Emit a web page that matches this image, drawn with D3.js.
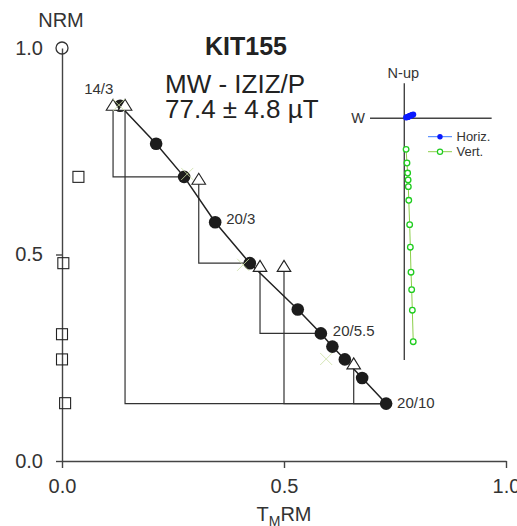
<!DOCTYPE html>
<html>
<head>
<meta charset="utf-8">
<script src="https://cdn.jsdelivr.net/npm/d3@7"></script>
<style>
  html, body { margin: 0; padding: 0; background: #fff; }
  svg { display: block; font-family: "Liberation Sans", Arial, sans-serif; }
</style>
</head>
<body>
<svg id="chart" width="517" height="526"></svg>
<script>
// Arai plot (NRM remaining vs pTRM gained), specimen KIT155
const tmX  = [0.131, 0.212, 0.275, 0.345, 0.423, 0.531, 0.583, 0.609, 0.637, 0.676, 0.730];
const nrmY = [0.860, 0.768, 0.688, 0.578, 0.479, 0.367, 0.309, 0.277, 0.246, 0.201, 0.139];
const nrmStart = [0, 1.0];

// pTRM checks: check position and the step they return to
const chkX   = [0.115, 0.142, 0.308, 0.446, 0.500, 0.657];
const chkY   = [0.860, 0.860, 0.681, 0.470, 0.470, 0.234];
const chkRef = [2, 10, 4, 6, 10, 10];

// pTRM tail checks
const tailX = [0.037, 0.003, 0.000, 0.000, 0.007];
const tailY = [0.688, 0.479, 0.307, 0.246, 0.140];

// additivity checks
const addX = [0.128, 0.282, 0.408, 0.595];
const addY = [0.862, 0.695, 0.475, 0.247];

// step labels
const stepLabels = ["14/3", "20/3", "20/5.5", "20/10"];
const stepIndex  = [0, 3, 6, 10];

const xTicks = [0, 0.5, 1.0];
const yTicks = [0, 0.5, 1.0];

// Orthogonal (Zijderveld) projection, normalised to NRM
const zijE  = [0.040, 0.036, 0.033, 0.030, 0.027, 0.024, 0.020, 0.018, 0.017, 0.015, 0.012, 0.008];
const zijN  = [0.017, 0.015, 0.014, 0.012, 0.011, 0.010, 0.008, 0.007, 0.007, 0.006, 0.005, 0.004];
const zijUp = [-1.000, -0.859, -0.767, -0.689, -0.577, -0.476, -0.367, -0.306, -0.276, -0.245, -0.200, -0.139];

const svg = d3.select("#chart");
const FONT = "Liberation Sans, Arial, sans-serif";
const INK = "#333";

const x = d3.scaleLinear().domain([0, 1]).range([62, 506]);
const y = d3.scaleLinear().domain([0, 1]).range([461, 48]);

// axes
const xAxis = d3.axisBottom(x).tickValues(xTicks).tickFormat(d3.format(".1f"))
  .tickSize(7).tickSizeOuter(0).tickPadding(11);
const yAxis = d3.axisLeft(y).tickValues(yTicks).tickFormat(d3.format(".1f"))
  .tickSize(6).tickSizeOuter(0).tickPadding(13);

const gx = svg.append("g").attr("transform", `translate(0,${y(0)})`).call(xAxis);
const gy = svg.append("g").attr("transform", `translate(${x(0)},0)`).call(yAxis);
[gx, gy].forEach(g => {
  g.selectAll("path, line").attr("stroke", "#444").attr("stroke-width", 1.4);
  g.selectAll("text").attr("font-size", 20).attr("fill", INK).attr("font-family", FONT);
});
gy.selectAll(".tick").filter(d => d === 1).select("line").remove();

svg.append("text").attr("x", 61).attr("y", 27).attr("text-anchor", "middle")
  .attr("font-size", 20).attr("fill", INK).text("NRM");

const xl = svg.append("text").attr("x", 284).attr("y", 521).attr("text-anchor", "middle")
  .attr("font-size", 20).attr("fill", INK);
xl.append("tspan").text("T");
xl.append("tspan").attr("font-size", 14).attr("dy", 5).text("M");
xl.append("tspan").attr("dy", -5).text("RM");

// pTRM check connectors
const plot = svg.append("g");
plot.selectAll("path.chk").data(chkX).join("path").attr("class", "chk")
  .attr("fill", "none").attr("stroke", "#333").attr("stroke-width", 1.2)
  .attr("d", (d, i) => {
    const r = chkRef[i];
    return `M${x(d)},${y(chkY[i])}V${y(nrmY[r])}H${x(tmX[r])}`;
  });

// line joining successive steps
const stepLine = d3.line().x(d => x(d)).y((d, i) => y(nrmY[i]));
plot.append("path").datum(tmX).attr("d", stepLine)
  .attr("fill", "none").attr("stroke", "#222").attr("stroke-width", 1.5);

// tail checks
plot.selectAll("rect.tail").data(tailX).join("rect").attr("class", "tail")
  .attr("x", d => x(d) - 5.5).attr("y", (d, i) => y(tailY[i]) - 5.5)
  .attr("width", 11).attr("height", 11)
  .attr("fill", "none").attr("stroke", "#222").attr("stroke-width", 1.1);

// NRM start
plot.append("circle").attr("cx", x(nrmStart[0])).attr("cy", y(nrmStart[1])).attr("r", 6)
  .attr("fill", "none").attr("stroke", "#333").attr("stroke-width", 1.3);

// data points
plot.selectAll("circle.pt").data(tmX).join("circle").attr("class", "pt")
  .attr("cx", d => x(d)).attr("cy", (d, i) => y(nrmY[i])).attr("r", 6.3)
  .attr("fill", "#1c1c1c");

// pTRM check triangles
const tri = "M0,-6.5L6.8,4.5L-6.8,4.5Z";
plot.selectAll("path.tri").data(chkX).join("path").attr("class", "tri")
  .attr("d", tri)
  .attr("transform", (d, i) => `translate(${x(d)},${y(chkY[i])})`)
  .attr("fill", "#fff").attr("stroke", "#222").attr("stroke-width", 1.1);

// additivity checks
plot.selectAll("path.add").data(addX).join("path").attr("class", "add")
  .attr("d", "M-6,-6L6,6M-6,6L6,-6")
  .attr("transform", (d, i) => `translate(${x(d)},${y(addY[i])})`)
  .attr("stroke", "#cde2a6").attr("stroke-width", 1).attr("opacity", 0.8);

// step labels
const labOff = [[-36, -12], [11, 2], [12, 3], [11, 4]];
plot.selectAll("text.step").data(stepLabels).join("text").attr("class", "step")
  .attr("x", (d, i) => x(tmX[stepIndex[i]]) + labOff[i][0])
  .attr("y", (d, i) => y(nrmY[stepIndex[i]]) + labOff[i][1])
  .attr("font-size", 15).attr("fill", INK).text(d => d);

// title block
svg.append("text").attr("x", 246).attr("y", 55).attr("text-anchor", "middle")
  .attr("font-size", 25).attr("font-weight", "bold").attr("fill", "#222").text("KIT155");
svg.append("text").attr("x", 165).attr("y", 93).attr("font-size", 26)
  .attr("fill", "#222").text("MW - IZIZ/P");
svg.append("text").attr("x", 165).attr("y", 118).attr("font-size", 26)
  .attr("fill", "#222").text("77.4 \u00B1 4.8 \u00B5T");

// orthogonal projection inset
const zx = d3.scaleLinear().domain([0, 1]).range([404.3, 627.7]);
const zy = d3.scaleLinear().domain([-1, 0]).range([341.7, 118.3]);
const inset = svg.append("g");
inset.append("line").attr("x1", zx(-0.1535)).attr("x2", zx(0.391))
  .attr("y1", zy(0)).attr("y2", zy(0)).attr("stroke", "#444").attr("stroke-width", 1.4);
inset.append("line").attr("x1", zx(0)).attr("x2", zx(0))
  .attr("y1", zy(0.157)).attr("y2", zy(-1.082)).attr("stroke", "#444").attr("stroke-width", 1.4);
inset.append("text").attr("x", zx(0) - 1).attr("y", 78).attr("text-anchor", "middle")
  .attr("font-size", 14.5).attr("fill", INK).text("N-up");
inset.append("text").attr("x", 365).attr("y", 123).attr("text-anchor", "end")
  .attr("font-size", 14.5).attr("fill", INK).text("W");

const vertLine = d3.line().x((d, i) => zx(zijE[i])).y((d, i) => zy(zijUp[i]));
inset.append("path").datum(zijE).attr("d", vertLine)
  .attr("fill", "none").attr("stroke", "#8ccf4a").attr("stroke-width", 1);
inset.selectAll("circle.v").data(zijE).join("circle").attr("class", "v")
  .attr("cx", d => zx(d)).attr("cy", (d, i) => zy(zijUp[i])).attr("r", 2.8)
  .attr("fill", "#fff").attr("stroke", "#1fcc1f").attr("stroke-width", 1.3);

const horLine = d3.line().x((d, i) => zx(zijE[i])).y((d, i) => zy(zijN[i]));
inset.append("path").datum(zijE).attr("d", horLine)
  .attr("fill", "none").attr("stroke", "#3a7bff").attr("stroke-width", 1);
inset.selectAll("circle.h").data(zijE).join("circle").attr("class", "h")
  .attr("cx", d => zx(d)).attr("cy", (d, i) => zy(zijN[i])).attr("r", 3)
  .attr("fill", "#0a1aff");

// legend
const legend = [
  { name: "Horiz.", line: "#3a7bff", y: 136.7, filled: true },
  { name: "Vert.", line: "#8ccf4a", y: 151.7, filled: false }
];
legend.forEach(l => {
  inset.append("line").attr("x1", 428).attr("x2", 452).attr("y1", l.y).attr("y2", l.y)
    .attr("stroke", l.line).attr("stroke-width", 1);
  if (l.filled) {
    inset.append("circle").attr("cx", 440).attr("cy", l.y).attr("r", 2.7).attr("fill", "#0a1aff");
  } else {
    inset.append("circle").attr("cx", 440).attr("cy", l.y).attr("r", 2.6)
      .attr("fill", "#fff").attr("stroke", "#1fcc1f").attr("stroke-width", 1.2);
  }
  inset.append("text").attr("x", 456.5).attr("y", l.y).attr("dy", "0.35em")
    .attr("font-size", 13).attr("fill", INK).text(l.name);
});
</script>
</body>
</html>
